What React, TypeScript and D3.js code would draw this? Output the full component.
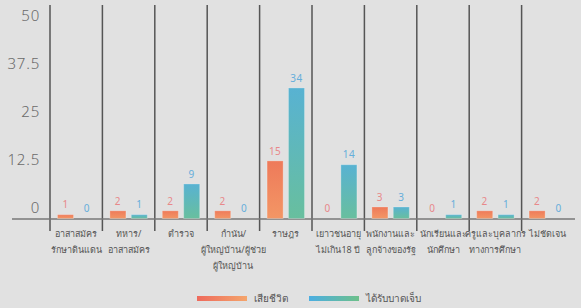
import React from 'react';
import * as d3 from 'd3';

const categories = [
  ['อาสาสมัคร', 'รักษาดินแดน'],
  ['ทหาร/', 'อาสาสมัคร'],
  ['ตำรวจ'],
  ['กำนัน/', 'ผู้ใหญ่บ้าน/ผู้ช่วย', 'ผู้ใหญ่บ้าน'],
  ['ราษฎร'],
  ['เยาวชนอายุ', 'ไม่เกิน18 ปี'],
  ['พนักงานและ', 'ลูกจ้างของรัฐ'],
  ['นักเรียนและ', 'นักศึกษา'],
  ['ครูและบุคลากร', 'ทางการศึกษา'],
  ['ไม่ชัดเจน'],
];
const dead = [1, 2, 2, 2, 15, 0, 3, 0, 2, 2];
const injured = [0, 1, 9, 0, 34, 14, 3, 1, 1, 0];
const yTicks = [0, 12.5, 25, 37.5, 50];
const seriesNames = ['เสียชีวิต', 'ได้รับบาดเจ็บ'];

const W = 581;
const H = 308;
const font = "'Noto Sans', 'DejaVu Sans', sans-serif";

const keys = categories.map((c, i) => String(i));
const xScale = d3.scaleBand().domain(keys).range([50, 574]);
const inner = d3.scaleBand().domain(['dead', 'injured'])
  .range([0, xScale.bandwidth()]).paddingInner(0.25).paddingOuter(0.35);
const yScale = d3.scaleLinear().domain([0, 50]).range([218.5, 26.5]);

const series = [
  { key: 'dead', values: dead, grad: 'gDead', label: '#e8888a' },
  { key: 'injured', values: injured, grad: 'gInj', label: '#66aedb' },
];

export default function App() {
  const y0 = yScale(0);
  return (
    <svg width={W} height={H} style={{ display: 'block', position: 'absolute', left: 0, top: 0, background: '#e1e1e1' }}>
      <defs>
        <linearGradient id="gDead" x1="0" y1="0" x2="0" y2="1">
          <stop offset="0" stopColor="#ee7a5a" />
          <stop offset="1" stopColor="#f39665" />
        </linearGradient>
        <linearGradient id="gInj" x1="0" y1="0" x2="0" y2="1">
          <stop offset="0" stopColor="#58b2d2" />
          <stop offset="1" stopColor="#68bf9e" />
        </linearGradient>
        <linearGradient id="lDead" x1="0" y1="0" x2="1" y2="0">
          <stop offset="0" stopColor="#ee6a5c" />
          <stop offset="1" stopColor="#f4a56c" />
        </linearGradient>
        <linearGradient id="lInj" x1="0" y1="0" x2="1" y2="0">
          <stop offset="0" stopColor="#4caee2" />
          <stop offset="1" stopColor="#6dc08a" />
        </linearGradient>
      </defs>
      <rect width={W} height={H} fill="#e1e1e1" />

      {/* y tick labels */}
      {yTicks.map((t) => (
        <text key={t} x={40} y={yScale(t) - 9} textAnchor="end" dominantBaseline="middle"
          fontFamily={font} fontSize={15} fontWeight={300} letterSpacing={0.8} fill="#6a6a6a">{t}</text>
      ))}

      {/* dividers */}
      {keys.map((k) => (
        <line key={k} x1={xScale(k)} x2={xScale(k)} y1={5} y2={231} stroke="#555" strokeWidth={1.5} />
      ))}

      <line x1={12} x2={575} y1={y0 + 0.5} y2={y0 + 0.5} stroke="#777" strokeWidth={1.5} />

      {/* bars */}
      {series.map((s) => keys.map((k, i) => {
        const x = (xScale(k) as number) + (inner(s.key) as number);
        const v = s.values[i];
        const yt = yScale(v);
        return (
          <g key={s.key + k}>
            {v > 0 && (
              <rect x={x} y={yt} width={inner.bandwidth()} height={y0 - yt}
                fill={`url(#${s.grad})`} stroke="rgba(255,255,255,0.25)" strokeWidth={1} />
            )}
            <text x={x + inner.bandwidth() / 2} y={yt - 9} textAnchor="middle" dominantBaseline="middle"
              fontFamily={font} fontSize={10} letterSpacing={0.5} fill={s.label}>{v}</text>
          </g>
        );
      }))}

      {/* category labels */}
      {categories.map((lines, i) => (
        <text key={i} x={(xScale(keys[i]) as number) + xScale.bandwidth() / 2} textAnchor="middle"
          fontFamily={font} fontSize={9} fill="#555">
          {lines.map((l, j) => (
            <tspan key={j} x={(xScale(keys[i]) as number) + xScale.bandwidth() / 2} y={237 + j * 16}>{l}</tspan>
          ))}
        </text>
      ))}

      {/* legend */}
      {seriesNames.map((n, i) => (
        <g key={n} transform={`translate(${197 + i * 112},296)`}>
          <rect width={50} height={5} fill={i === 0 ? 'url(#lDead)' : 'url(#lInj)'} />
          <text x={57} y={3} dominantBaseline="middle" fontFamily={font} fontSize={10} fill="#555">{n}</text>
        </g>
      ))}
    </svg>
  );
}
